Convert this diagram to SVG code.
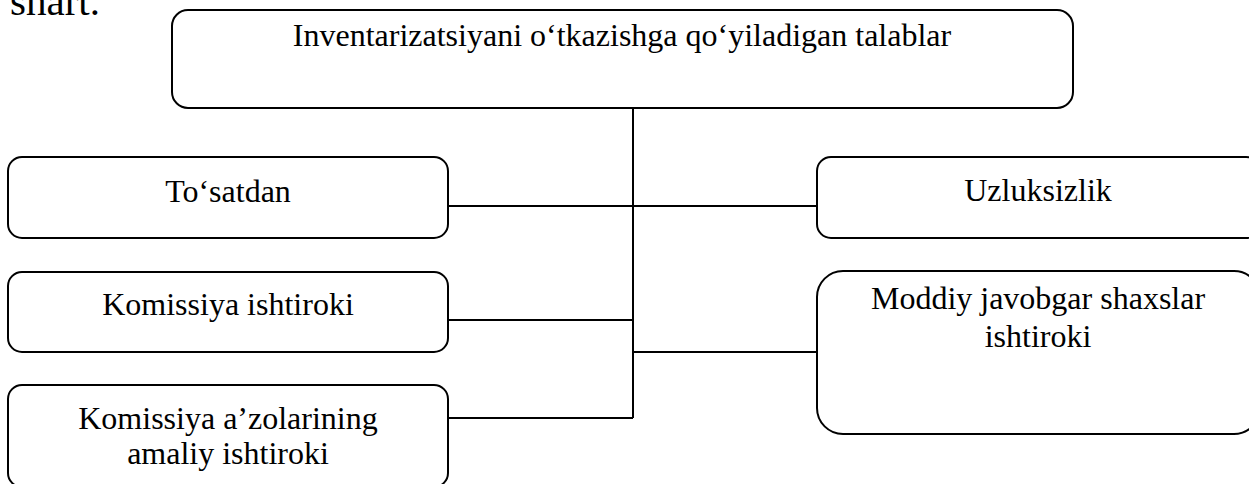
<svg xmlns="http://www.w3.org/2000/svg" width="1249" height="484" viewBox="0 0 1249 484">
<style>
.box{fill:#fff;stroke:#000;stroke-width:2}
.t{font-family:"Liberation Serif","Times New Roman",serif;font-size:32px;fill:#000;text-anchor:middle}
.c{stroke:#000;stroke-width:2;fill:none}
</style>
<rect width="1249" height="484" fill="#fff"/>
<text x="10" y="15" style="font-family:'Liberation Serif','Times New Roman',serif;font-size:41px;fill:#000">shart.</text>
<g id="connectors">
<line class="c" x1="633" y1="108" x2="633" y2="418"/>
<line class="c" x1="448" y1="206" x2="817" y2="206"/>
<line class="c" x1="448" y1="320" x2="633" y2="320"/>
<line class="c" x1="633" y1="352" x2="817" y2="352"/>
<line class="c" x1="448" y1="418" x2="633" y2="418"/>
</g>
<g id="top">
<rect class="box" x="172" y="10" width="901" height="98" rx="16"/>
<text class="t" x="622" y="46">Inventarizatsiyani o‘tkazishga qo‘yiladigan talablar</text>
</g>
<g id="tosatdan">
<rect class="box" x="8" y="157" width="440" height="81" rx="14"/>
<text class="t" x="228" y="202">To‘satdan</text>
</g>
<g id="komissiya">
<rect class="box" x="8" y="272" width="440" height="80" rx="14"/>
<text class="t" x="228" y="315">Komissiya ishtiroki</text>
</g>
<g id="azolar">
<rect class="box" x="8" y="385" width="440" height="102" rx="14"/>
<text class="t" x="228" y="429">Komissiya a’zolarining</text>
<text class="t" x="228" y="464">amaliy ishtiroki</text>
</g>
<g id="uzluksizlik">
<rect class="box" x="817" y="157" width="443" height="81" rx="14"/>
<text class="t" x="1038" y="201">Uzluksizlik</text>
</g>
<g id="moddiy">
<rect class="box" x="817" y="271" width="443" height="163" rx="26"/>
<text class="t" x="1038" y="309">Moddiy javobgar shaxslar</text>
<text class="t" x="1038" y="347">ishtiroki</text>
</g>
</svg>
